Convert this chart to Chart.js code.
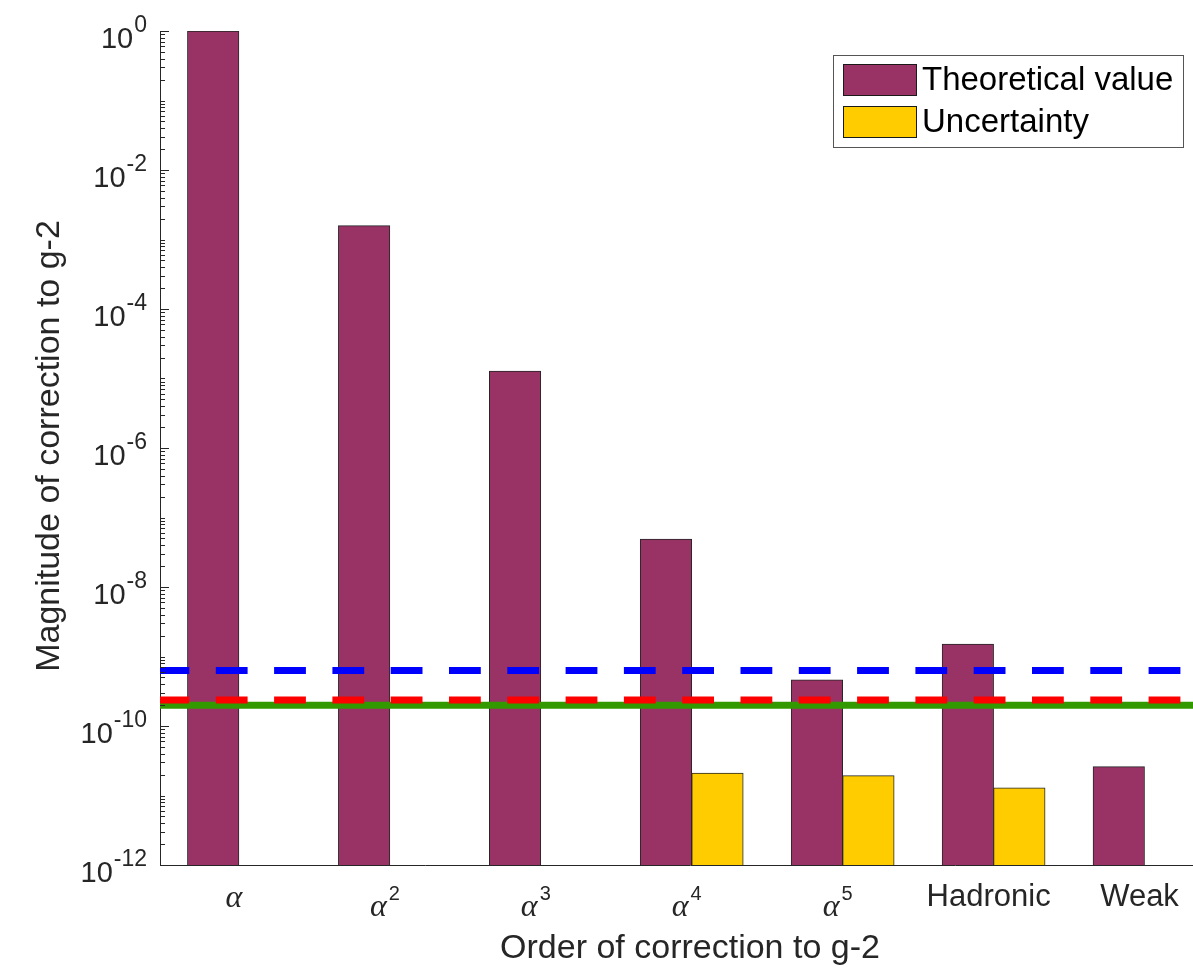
<!DOCTYPE html>
<html>
<head>
<meta charset="utf-8">
<title>Order of correction to g-2</title>
<script src="https://cdn.jsdelivr.net/npm/chart.js@4.4.1/dist/chart.umd.min.js"></script>
<style>
  html, body { margin: 0; padding: 0; background: #ffffff; overflow: hidden; }
  #wrap { width: 1193px; height: 968px; overflow: hidden; }
  canvas { display: block; }
</style>
</head>
<body>
<div id="wrap"><canvas id="chart" width="1240" height="968"></canvas></div>
<script>
// Categories ("^n" marks a superscript power on the label)
const categories = ['α', 'α^2', 'α^3', 'α^4', 'α^5', 'Hadronic', 'Weak'];
// Magnitude of each contribution to g-2
const theoreticalValue = [1.0, 1.58e-3, 1.28e-5, 4.9e-8, 4.6e-10, 1.51e-9, 2.6e-11];
// Uncertainty of each contribution (null = none shown)
const uncertainty = [null, null, null, 2.1e-11, 1.93e-11, 1.29e-11, null];
// Horizontal reference levels
const levelBlue = 6.3e-10;
const levelRed = 2.37e-10;
const levelGreen = 1.99e-10;
// Labelled y ticks: powers of ten
const yTickPowers = [0, -2, -4, -6, -8, -10, -12];

const seriesNames = ['Theoretical value', 'Uncertainty'];
const X_MIN = 0.477, X_MAX = 7.5;
const Y_MIN = 1e-12, Y_MAX = 1;

const AXIS_COLOR = '#262626';
const SANS = '"Liberation Sans", Arial, Helvetica, sans-serif';
const SERIF = '"Liberation Serif", "DejaVu Serif", serif';

const xy = arr => arr.map((v, i) => ({ x: i + 1, y: v }));
const hline = v => [{ x: X_MIN, y: v }, { x: X_MAX, y: v }];

const decor = {
  id: 'decor',
  afterDraw(chart) {
    const ctx = chart.ctx;
    const area = chart.chartArea;
    const xs = chart.scales.x, ys = chart.scales.y;
    ctx.save();

    // y-axis ticks, pointing into the plot
    ctx.strokeStyle = AXIS_COLOR;
    ctx.lineWidth = 1;
    ctx.beginPath();
    for (let k = -12; k <= 0; k++) {
      for (let m = 1; m <= 9; m++) {
        const v = m * Math.pow(10, k);
        if (v > Y_MAX * 1.0001) continue;
        const y = Math.round(ys.getPixelForValue(v)) + 0.5;
        const major = (m === 1 && k % 2 === 0);
        const len = major ? 9 : 5;
        ctx.moveTo(area.left, y);
        ctx.lineTo(area.left + len, y);
      }
    }
    ctx.stroke();

    // y tick labels 10^p
    ctx.fillStyle = AXIS_COLOR;
    ctx.textAlign = 'right';
    ctx.textBaseline = 'alphabetic';
    const rightX = area.left - 13;
    yTickPowers.forEach(p => {
      const y = ys.getPixelForValue(Math.pow(10, p));
      const sup = String(p);
      ctx.font = '23px ' + SANS;
      const sw = ctx.measureText(sup).width;
      ctx.fillText(sup, rightX, y + 1);
      ctx.font = '29px ' + SANS;
      ctx.fillText('10', rightX - sw - 1, y + 17);
    });

    // x tick labels
    categories.forEach((c, i) => {
      const cx = xs.getPixelForValue(i + 1) - 5;
      if (c.startsWith('α')) {
        const parts = c.split('^');
        ctx.font = 'italic 32px ' + SERIF;
        const aw = ctx.measureText(parts[0]).width;
        if (parts.length > 1) {
          ctx.font = '20px ' + SANS;
          const pw = ctx.measureText(parts[1]).width;
          const total = aw + 2 + pw;
          const x0 = cx - total / 2;
          ctx.textAlign = 'left';
          ctx.font = 'italic 32px ' + SERIF;
          ctx.fillText(parts[0], x0, 916);
          ctx.font = '20px ' + SANS;
          ctx.fillText(parts[1], x0 + aw + 2, 900);
        } else {
          ctx.textAlign = 'center';
          ctx.fillText(parts[0], cx, 907);
        }
      } else {
        ctx.textAlign = 'center';
        ctx.font = '31px ' + SANS;
        ctx.fillText(c, cx, 906);
      }
    });

    // axis titles
    ctx.font = '34px ' + SANS;
    ctx.textAlign = 'center';
    ctx.fillText('Order of correction to g-2', (area.left + area.right) / 2, 958);
    ctx.save();
    ctx.translate(59, (area.top + area.bottom) / 2 - 2);
    ctx.rotate(-Math.PI / 2);
    ctx.fillText('Magnitude of correction to g-2', 0, 0);
    ctx.restore();

    // legend
    const lx = 833.5, ly = 55.5, lw = 350, lh = 92;
    ctx.fillStyle = '#ffffff';
    ctx.fillRect(lx, ly, lw, lh);
    ctx.strokeStyle = '#555555';
    ctx.lineWidth = 1;
    ctx.strokeRect(lx, ly, lw, lh);
    const swatchColors = [chart.data.datasets[0].backgroundColor, chart.data.datasets[1].backgroundColor];
    seriesNames.forEach((name, i) => {
      const sy = 64.5 + i * 42;
      ctx.fillStyle = swatchColors[i];
      ctx.fillRect(843.5, sy, 73, 31);
      ctx.strokeStyle = '#1a1a1a';
      ctx.strokeRect(843.5, sy, 73, 31);
      ctx.fillStyle = '#000000';
      ctx.font = '33px ' + SANS;
      ctx.textAlign = 'left';
      ctx.textBaseline = 'middle';
      ctx.fillText(name, 922, sy + 16);
    });
    ctx.restore();
  }
};

new Chart(document.getElementById('chart'), {
  data: {
    datasets: [
      { type: 'bar', label: seriesNames[0], data: xy(theoreticalValue),
        backgroundColor: '#993366', borderColor: '#262626', borderWidth: 1, order: 5 },
      { type: 'bar', label: seriesNames[1], data: xy(uncertainty),
        backgroundColor: '#ffcc00', borderColor: '#262626', borderWidth: 1, order: 5 },
      { type: 'line', label: 'blue', data: hline(levelBlue), borderColor: '#0000ff',
        borderWidth: 7, borderDash: [31.8, 26.5], borderDashOffset: 2.5,
        pointRadius: 0, fill: false, order: 3 },
      { type: 'line', label: 'green', data: hline(levelGreen), borderColor: '#339900',
        borderWidth: 7, pointRadius: 0, fill: false, order: 2 },
      { type: 'line', label: 'red', data: hline(levelRed), borderColor: '#ff0000',
        borderWidth: 7, borderDash: [31.8, 26.5], borderDashOffset: 2.5,
        pointRadius: 0, fill: false, order: 1 }
    ]
  },
  options: {
    responsive: false,
    animation: false,
    devicePixelRatio: 1,
    layout: { padding: { left: 160, top: 31, right: 20, bottom: 103 } },
    datasets: { bar: { barThickness: 51.5 } },
    scales: {
      x: {
        type: 'linear', min: X_MIN, max: X_MAX, offset: false,
        grid: { display: false },
        border: { display: true, color: AXIS_COLOR, width: 1 },
        ticks: { display: false },
        afterFit(s) { s.height = 0; }
      },
      y: {
        type: 'logarithmic', min: Y_MIN, max: Y_MAX,
        grid: { display: false },
        border: { display: true, color: AXIS_COLOR, width: 1 },
        ticks: { display: false },
        afterFit(s) { s.width = 0; }
      }
    },
    plugins: { legend: { display: false }, tooltip: { enabled: false } }
  },
  plugins: [decor]
});
</script>
</body>
</html>
